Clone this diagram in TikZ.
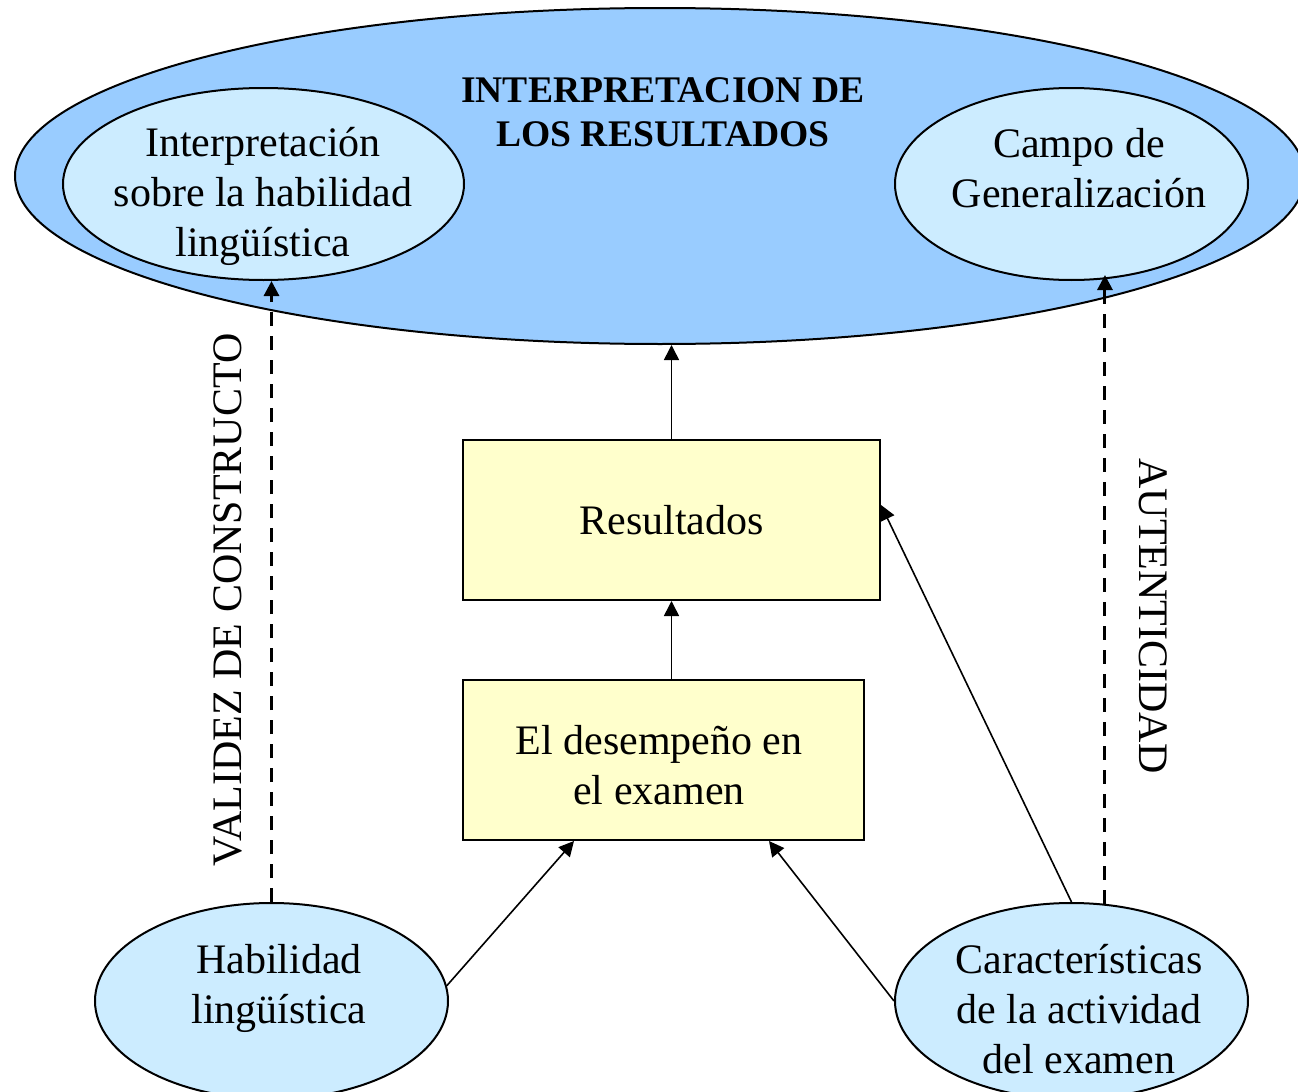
\documentclass[tikz,border=0pt]{standalone}
\usepackage{fontspec}
\setmainfont{Liberation Serif}
\usetikzlibrary{shapes.geometric,arrows.meta}
\definecolor{bigblue}{HTML}{99CCFF}
\definecolor{lightblue}{HTML}{CCECFF}
\definecolor{lightyellow}{HTML}{FFFFCC}
\begin{document}
\begin{tikzpicture}[x=0.5pt,y=-0.5pt,
  oval/.style={ellipse, draw, line width=1pt, inner sep=0pt},
  boxnode/.style={rectangle, draw, line width=1pt, fill=lightyellow, inner sep=0pt, align=center, font=\fontsize{21}{25}\selectfont},
  txt/.style={align=center, font=\fontsize{21}{25}\selectfont, inner sep=0pt},
  titletxt/.style={align=center, font=\fontsize{18.8}{22}\selectfont\bfseries, inner sep=0pt},
  arr/.style={-{Triangle[length=7.5pt,width=7.5pt]}, line width=0.8pt},
  dasharr/.style={-{Triangle[length=7.5pt,width=7.5pt]}, line width=1.5pt, dash pattern=on 7pt off 5pt}]
\useasboundingbox (0,0) rectangle (1298,1092);
\fill[white] (0,0) rectangle (1298,1092);
\begin{scope}
\clip (0,0) rectangle (1298,1092);
% big ellipse
\node[oval, fill=bigblue, minimum width=645pt, minimum height=168pt] (big) at (660,176) {};
\node[titletxt] (title) at (663,112) {INTERPRETACION DE\\LOS RESULTADOS};
% inner ellipses
\node[oval, fill=lightblue, minimum width=200.5pt, minimum height=96pt] (interp) at (263.5,184) {};
\node[txt] (interptxt) at (263,196) {Interpretación\\sobre la habilidad\\lingüística};
\node[oval, fill=lightblue, minimum width=176.5pt, minimum height=96pt] (campo) at (1071.5,184) {};
\node[txt] (campotxt) at (1079,168) {Campo de\\Generalización};
% boxes
\node[boxnode, minimum width=208.5pt, minimum height=80pt] (res) at (671.5,520) {Resultados};
\node[boxnode, minimum width=200.5pt, minimum height=80pt] (desemp) at (663.5,760) {};
\node[txt] (desemptxt) at (659,765) {El desempeño en\\el examen};
% bottom ellipses
\node[oval, fill=lightblue, minimum width=176.5pt, minimum height=98pt] (hab) at (271.5,1001) {};
\node[txt] (habtxt) at (279,988) {Habilidad\\lingüística};
\node[oval, fill=lightblue, minimum width=176.5pt, minimum height=98pt] (carac) at (1071.5,1001) {};
\node[txt] (caractxt) at (1079,1009) {Características\\de la actividad\\del examen};
% side labels
\node[txt, rotate=90] (validez) at (228,600) {VALIDEZ DE CONSTRUCTO};
\node[txt, rotate=-90] (autent) at (1153,616) {AUTENTICIDAD};
% connectors
\draw[arr] (res.north) -- (res.north |- big.south);
\draw[arr] (desemp.north -| res.north) -- (res.south);
\draw[arr] (hab.5) -- ([xshift=56pt]desemp.south west);
\draw[arr] (carac.180) -- ([xshift=-48pt]desemp.south east);
\draw[arr] (carac.north) -- ([yshift=7.5pt]res.east);
\draw[dasharr] (hab.north) -- (hab.north |- interp.south);
\draw[dasharr] (carac.71) -- ([yshift=3pt]carac.71 |- campo.south);
\end{scope}
\end{tikzpicture}
\end{document}
